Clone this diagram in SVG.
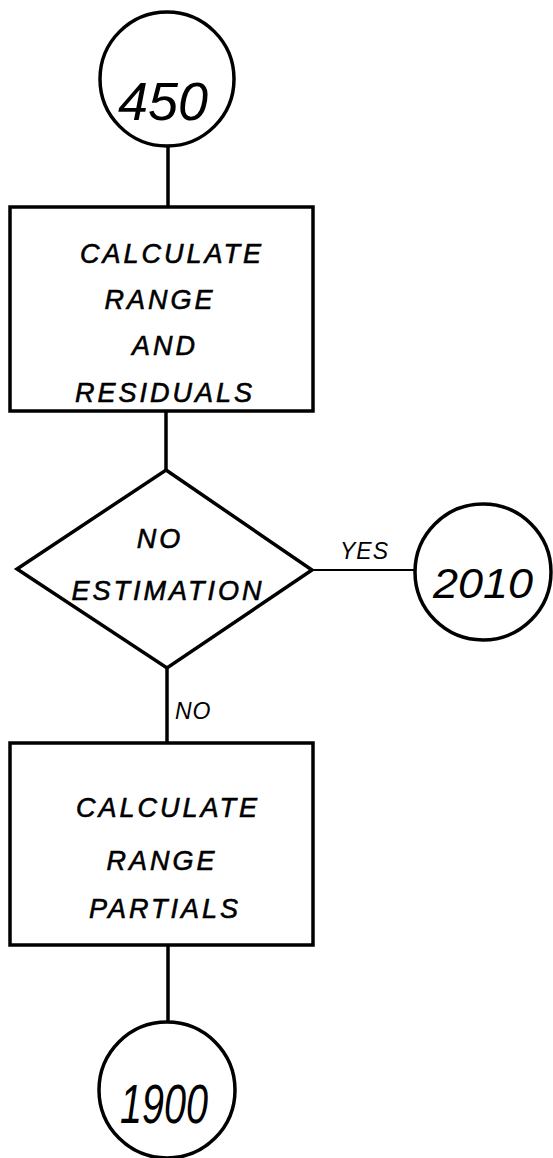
<svg xmlns="http://www.w3.org/2000/svg" width="553" height="1158" viewBox="0 0 553 1158">
<style>
.shape{fill:none;stroke:#000;stroke-width:3.5}
.conn{fill:none;stroke:#000;stroke-width:3.5}
.thin{fill:none;stroke:#000;stroke-width:2}
.t{font-family:"Liberation Sans",Arial,sans-serif;font-style:italic;font-size:27px;fill:#000;stroke:#000;stroke-width:0.6;text-anchor:middle;letter-spacing:3px}
.num{font-family:"Liberation Sans",Arial,sans-serif;font-style:italic;fill:#000;text-anchor:middle}
.lbl{font-family:"Liberation Sans",Arial,sans-serif;font-style:italic;font-size:23px;fill:#000;letter-spacing:1px}
</style>
<rect width="553" height="1158" fill="#fff"/>
<g id="connectors">
<line class="conn" x1="168" y1="146" x2="168" y2="207"/>
<line class="conn" x1="166" y1="411" x2="166" y2="470"/>
<line class="conn" x1="167" y1="668" x2="167" y2="743"/>
<line class="conn" x1="168" y1="945" x2="168" y2="1022"/>
<line class="thin" x1="312" y1="570" x2="415" y2="570"/>
<text class="lbl" x="340" y="559">YES</text>
<text class="lbl" x="175" y="719">NO</text>
</g>
<g id="c450">
<circle class="shape" cx="167" cy="79" r="67"/>
<text class="num" x="163" y="120" font-size="54" textLength="90" lengthAdjust="spacingAndGlyphs">450</text>
</g>
<g id="box1">
<rect class="shape" x="10" y="207" width="303" height="204"/>
<text class="t" x="172" y="263">CALCULATE</text>
<text class="t" x="160" y="309">RANGE</text>
<text class="t" x="165" y="355">AND</text>
<text class="t" x="165" y="402">RESIDUALS</text>
</g>
<g id="decision">
<polygon class="shape" points="166,470 312,570 167,668 17,569"/>
<text class="t" x="160" y="548">NO</text>
<text class="t" x="168" y="600">ESTIMATION</text>
</g>
<g id="c2010">
<circle class="shape" cx="483" cy="572" r="68"/>
<text class="num" x="483" y="598" font-size="42" textLength="100" lengthAdjust="spacingAndGlyphs">2010</text>
</g>
<g id="box2">
<rect class="shape" x="10" y="743" width="303" height="202"/>
<text class="t" x="168" y="817">CALCULATE</text>
<text class="t" x="162" y="870">RANGE</text>
<text class="t" x="165" y="918">PARTIALS</text>
</g>
<g id="c1900">
<circle class="shape" cx="167" cy="1090" r="68"/>
<text class="num" x="164" y="1123" font-size="56" textLength="88" lengthAdjust="spacingAndGlyphs">1900</text>
</g>
</svg>
